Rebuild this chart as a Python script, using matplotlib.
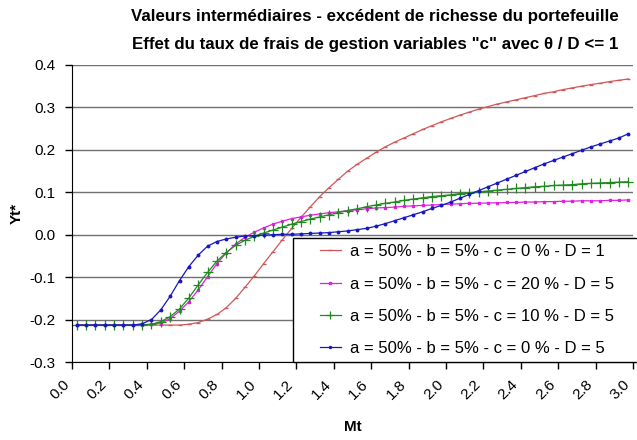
import matplotlib
matplotlib.use('Agg')
import matplotlib.pyplot as plt
from matplotlib.lines import Line2D
from matplotlib.legend_handler import HandlerLine2D
import numpy as np

# Data, Mt = 0.025, 0.075, ... 2.975
mt = [0.025 + 0.05*i for i in range(60)]

red = [-0.213, -0.213, -0.213, -0.213, -0.213, -0.213, -0.213, -0.213, -0.213, -0.213,
       -0.213, -0.213, -0.211, -0.207, -0.199, -0.188, -0.172, -0.150, -0.124, -0.097,
       -0.068, -0.040, -0.012, 0.015, 0.041, 0.066, 0.090, 0.111, 0.131, 0.150,
       0.166, 0.180, 0.194, 0.207, 0.218, 0.228, 0.238, 0.248, 0.257, 0.266,
       0.274, 0.282, 0.289, 0.296, 0.302, 0.308, 0.313, 0.318, 0.323, 0.328,
       0.333, 0.337, 0.342, 0.346, 0.350, 0.354, 0.357, 0.361, 0.364, 0.367]

magenta = [-0.213, -0.213, -0.213, -0.213, -0.213, -0.213, -0.213, -0.213, -0.211, -0.208,
           -0.198, -0.180, -0.158, -0.130, -0.099, -0.068, -0.043, -0.022, -0.006, 0.006,
           0.016, 0.025, 0.032, 0.038, 0.042, 0.046, 0.049, 0.052, 0.054, 0.057,
           0.059, 0.061, 0.063, 0.064, 0.065, 0.067, 0.068, 0.069, 0.070, 0.071,
           0.072, 0.073, 0.074, 0.074, 0.075, 0.075, 0.076, 0.076, 0.077, 0.077,
           0.078, 0.078, 0.079, 0.079, 0.080, 0.080, 0.080, 0.081, 0.081, 0.082]

green = [-0.213, -0.213, -0.213, -0.213, -0.213, -0.213, -0.213, -0.213, -0.211, -0.205,
         -0.193, -0.175, -0.149, -0.118, -0.089, -0.062, -0.042, -0.025, -0.013, -0.004,
         0.004, 0.011, 0.018, 0.025, 0.031, 0.037, 0.042, 0.047, 0.052, 0.057,
         0.061, 0.066, 0.070, 0.074, 0.077, 0.081, 0.084, 0.087, 0.090, 0.092,
         0.094, 0.097, 0.099, 0.101, 0.103, 0.105, 0.107, 0.109, 0.111, 0.113,
         0.114, 0.116, 0.117, 0.118, 0.120, 0.121, 0.122, 0.123, 0.124, 0.125]

blue = [-0.213, -0.213, -0.213, -0.213, -0.213, -0.213, -0.213, -0.210, -0.200, -0.177,
        -0.145, -0.108, -0.075, -0.048, -0.027, -0.016, -0.010, -0.006, -0.003, -0.002,
        -0.001, 0.000, 0.001, 0.001, 0.002, 0.003, 0.004, 0.005, 0.007, 0.009,
        0.012, 0.015, 0.020, 0.026, 0.033, 0.040, 0.047, 0.054, 0.062, 0.069,
        0.077, 0.086, 0.095, 0.104, 0.113, 0.122, 0.131, 0.140, 0.149, 0.158,
        0.167, 0.175, 0.183, 0.191, 0.199, 0.207, 0.214, 0.221, 0.228, 0.238]

labels = ['a = 50% - b = 5% - c = 0 % - D = 1',
          'a = 50% - b = 5% - c = 20 % - D = 5',
          'a = 50% - b = 5% - c = 10 % - D = 5',
          'a = 50% - b = 5% - c = 0 % - D = 5']

xticks = [round(0.2*i, 1) for i in range(16)]
yticks = [round(-0.3 + 0.1*i, 1) for i in range(8)]

# ---- Plot ----
plt.rcParams['font.family'] = ['Liberation Sans', 'DejaVu Sans']

fig = plt.figure(figsize=(6.37, 4.40), dpi=100)
ax = fig.add_axes([72/637, 1-362/440, 561/637, 297/440])

ax.plot(mt, red, color='#D05858', lw=0.9, marker='_', markersize=3, label=labels[0])
ax.plot(mt, magenta, color='#E020E0', lw=0.9, marker='s', markersize=1.8, label=labels[1])
ax.plot(mt, green, color='#208A20', lw=0.9, marker='+', markersize=7, mew=0.9, label=labels[2])
ax.plot(mt, blue, color='#1818C0', lw=0.9, marker='o', markersize=1.8, label=labels[3])

ax.set_xlim(0, 3.0)
ax.set_ylim(-0.3, 0.4)
ax.set_xticks(xticks)
ax.set_xticklabels(['%.1f' % v for v in xticks], rotation=45, ha='right', va='top',
                   rotation_mode='default', fontsize=11)
ax.set_yticks(yticks)
ax.set_yticklabels(['%.1f' % v for v in yticks], fontsize=11)
ax.tick_params(axis='both', direction='out', length=5, width=1, color='black')
ax.tick_params(axis='y', pad=7)
ax.tick_params(axis='x', pad=6)
ax.yaxis.grid(True, color='#707070', lw=1)
ax.set_axisbelow(True)
for s in ['top', 'right']:
    ax.spines[s].set_visible(False)
for s in ['left', 'bottom']:
    ax.spines[s].set_color('black')

ax.set_xlabel('Mt', fontsize=11, fontweight='bold', labelpad=13)
ax.set_ylabel('Yt*', fontsize=11, fontweight='bold', labelpad=4)

fig.text(375/637, 1-17/440, 'Valeurs intermédiaires - excédent de richesse du portefeuille',
         ha='center', va='center', fontsize=12.2, fontweight='bold')
fig.text(375/637, 1-45/440, 'Effet du taux de frais de gestion variables "c" avec θ / D <= 1',
         ha='center', va='center', fontsize=12.2, fontweight='bold')

leg = ax.legend(loc='lower left', bbox_to_anchor=(293/637, 1-362/440, 360/637, 125/440),
                bbox_transform=fig.transFigure, mode='expand', fontsize=12,
                frameon=True, fancybox=False, framealpha=1, edgecolor='black',
                handlelength=2.52, handletextpad=0.54, labelspacing=1.04,
                borderaxespad=0, borderpad=0.35, markerscale=0.8,
                handler_map={Line2D: HandlerLine2D(xpad=1.26)})
leg.get_frame().set_linewidth(1)

fig.savefig('out.png', dpi=100)
